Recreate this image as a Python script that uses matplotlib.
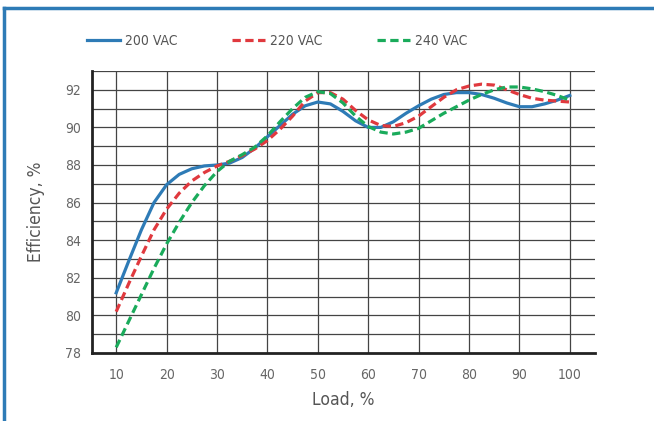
import matplotlib
matplotlib.use('Agg')
import matplotlib.pyplot as plt
from matplotlib.lines import Line2D

plt.rcParams['font.family'] = 'DejaVu Sans'
plt.rcParams['font.stretch'] = 'condensed'

load = [10, 12.5, 15, 17.5, 20, 22.5, 25, 27.5, 30, 32.5, 35, 37.5, 40, 42.5, 45, 47.5, 50,
        52.5, 55, 57.5, 60, 62.5, 65, 67.5, 70, 72.5, 75, 77.5, 80, 82.5, 85, 87.5, 90,
        92.5, 95, 97.5, 100]
eff_200 = [81.2, 82.9, 84.55, 86.0, 86.95, 87.5, 87.8, 87.95, 88.0, 88.1, 88.4, 88.9, 89.5,
           90.1, 90.7, 91.15, 91.35, 91.25, 90.85, 90.35, 90.0, 90.0, 90.3, 90.75, 91.15,
           91.5, 91.75, 91.85, 91.85, 91.75, 91.55, 91.3, 91.1, 91.1, 91.25, 91.45, 91.7]
eff_220 = [80.2, 81.7, 83.15, 84.55, 85.65, 86.5, 87.15, 87.6, 87.95, 88.2, 88.5, 88.85, 89.3,
           89.9, 90.6, 91.4, 91.85, 91.85, 91.5, 90.9, 90.4, 90.1, 90.05, 90.25, 90.6,
           91.1, 91.6, 92.0, 92.2, 92.3, 92.25, 92.0, 91.75, 91.55, 91.45, 91.4, 91.35]
eff_240 = [78.3, 79.7, 81.1, 82.5, 83.8, 84.95, 86.0, 86.9, 87.65, 88.2, 88.55, 88.95, 89.55,
           90.3, 91.0, 91.6, 91.9, 91.8, 91.3, 90.6, 90.05, 89.75, 89.65, 89.75, 89.95,
           90.35, 90.75, 91.1, 91.45, 91.75, 92.0, 92.15, 92.15, 92.05, 91.9, 91.7, 91.45]

x_ticks = [10, 20, 30, 40, 50, 60, 70, 80, 90, 100]
y_ticks = [78, 80, 82, 84, 86, 88, 90, 92]

fig = plt.figure(figsize=(6.54, 4.21), dpi=100)
ax = fig.add_axes([92/654, 1 - 353/421, 503/654, 282/421])

# grid
for v in x_ticks:
    ax.axvline(v, color='#444444', lw=0.9, zorder=1)
for h in range(79, 94):
    ax.axhline(h, color='#444444', lw=0.9, zorder=1)

dash = (0, (2.6, 1.4))
ax.plot(load, eff_200, color='#2e7bb6', lw=2.3, label='200 VAC', zorder=3)
ax.plot(load, eff_220, color='#e0393e', lw=2.3, ls=dash, label='220 VAC', zorder=3)
ax.plot(load, eff_240, color='#1aab5b', lw=2.3, ls=dash, label='240 VAC', zorder=3)

ax.set_xlim(5.2, 105)
ax.set_ylim(78, 93)
ax.set_xticks(x_ticks)
ax.set_yticks(y_ticks)
ax.tick_params(length=0, labelsize=10, colors='#666666')
ax.tick_params(axis='x', pad=11)
ax.tick_params(axis='y', pad=8)
for s in ['top', 'right']:
    ax.spines[s].set_visible(False)
for s in ['left', 'bottom']:
    ax.spines[s].set_linewidth(2)
    ax.spines[s].set_color('#222222')
ax.set_xlabel('Load, %', fontsize=12.5, color='#555555', labelpad=6)
ax.set_ylabel('Efficiency, %', fontsize=12.5, color='#555555', labelpad=14)

fig.legend(loc='center left', bbox_to_anchor=(87/654, 1 - 41/421), ncol=3, frameon=False,
           fontsize=10, labelcolor='#555555', handlelength=2.4, columnspacing=3.9,
           handletextpad=0.35, borderpad=0, borderaxespad=0)

# blue frame
fig.add_artist(Line2D([4/654, 4/654], [0, 1 - 8/421], color='#2e7bb6', lw=2.5,
                      transform=fig.transFigure))
fig.add_artist(Line2D([4/654, 1], [1 - 8/421, 1 - 8/421], color='#2e7bb6', lw=2.5,
                      transform=fig.transFigure))

fig.savefig('out.png', dpi=100)
